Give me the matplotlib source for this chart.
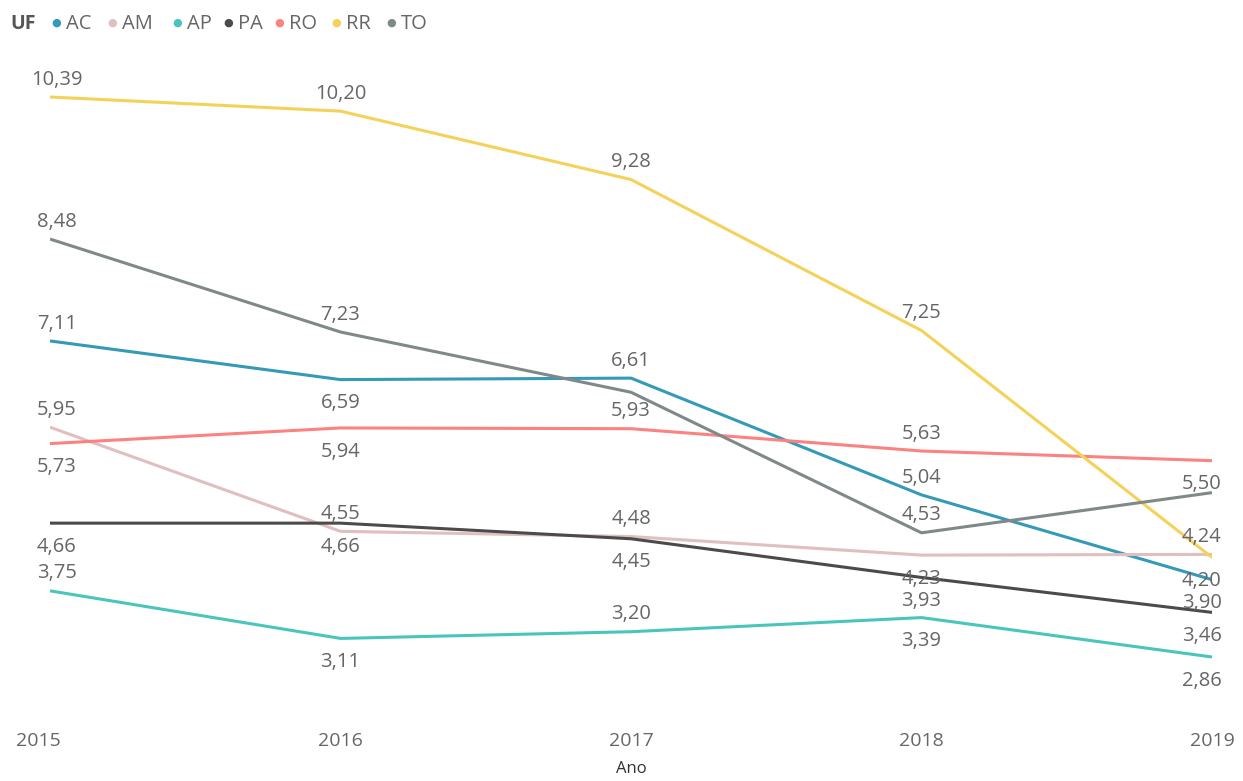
import matplotlib.pyplot as plt
from matplotlib.transforms import ScaledTranslation

plt.rcParams['font.family'] = ['Open Sans', 'DejaVu Sans']

anos = [2015, 2016, 2017, 2018, 2019]
uf = ['AC', 'AM', 'AP', 'PA', 'RO', 'RR', 'TO']

ac = [7.11, 6.59, 6.61, 5.04, 3.90]
am = [5.95, 4.55, 4.48, 4.23, 4.24]
ap = [3.75, 3.11, 3.20, 3.39, 2.86]
pa = [4.66, 4.66, 4.45, 3.93, 3.46]
ro = [5.73, 5.94, 5.93, 5.63, 5.50]
rr = [10.39, 10.20, 9.28, 7.25, 4.20]
to = [8.48, 7.23, 6.42, 4.53, 5.07]

series = [ac, am, ap, pa, ro, rr, to]
cores = ['#3599B8', '#DFBFBF', '#4AC5BB', '#4B4B4B', '#FB8281', '#F4D25A', '#7F898A']

# posição dos rótulos: 1 acima, -1 abaixo, 0 sem rótulo
pos = {
    'AC': [1, -1, 1, 1, -1],
    'AM': [1, 1, 1, -1, 1],
    'AP': [1, -1, 1, -1, -1],
    'PA': [-1, -1, -1, -1, -1],
    'RO': [-1, -1, 1, 1, -1],
    'RR': [1, 1, 1, 1, -1],
    'TO': [1, 1, 0, 1, 0],
}

fig = plt.figure(figsize=(12.43, 7.81), dpi=100)
ax = fig.add_axes([50 / 1243, 71 / 781, 1162 / 1243, 650 / 781])

txt = '#666666'
for nome, vals, cor in zip(uf, series, cores):
    ax.plot(anos, vals, color=cor, lw=2.2, solid_capstyle='butt')
    for i, (a, v) in enumerate(zip(anos, vals)):
        p = pos[nome][i]
        if p == 0:
            continue
        dy = 12.5 if p > 0 else -17
        ha = 'right' if i == 4 else 'center'
        dx = 7 if i == 4 else (5 if i == 0 else 0)
        ax.annotate(f'{v:.2f}'.replace('.', ','), (a, v), xytext=(dx, dy),
                    textcoords='offset points', ha=ha, va='center',
                    fontsize=14.5, color=txt)

ax.set_xlim(2015, 2019)
ax.set_ylim(2.1475, 10.8875)
ax.set_xticks(anos)
ax.set_xticklabels([str(a) for a in anos], fontsize=14, color=txt)
ax.tick_params(axis='x', length=0, pad=16)
lbls = ax.get_xticklabels()
lbls[0].set_transform(lbls[0].get_transform() + ScaledTranslation(-0.12, 0, fig.dpi_scale_trans))
ax.set_yticks([])
for s in ax.spines.values():
    s.set_visible(False)
ax.set_xlabel('Ano', fontsize=12, color='#333333', labelpad=8)

# legenda no topo
fig.text(10 / 1243, 1 - 24 / 781, 'UF', fontsize=14, fontweight='bold',
         color='#555555', va='center')
xs = [51, 107, 172, 223, 274, 331, 386]
for x, nome, cor in zip(xs, uf, cores):
    fig.text(x / 1243, 1 - 23 / 781, '●', fontsize=8, color=cor, va='center')
    fig.text((x + 15) / 1243, 1 - 24 / 781, nome, fontsize=14.5, color=txt, va='center')

fig.savefig('out.png', dpi=100)
